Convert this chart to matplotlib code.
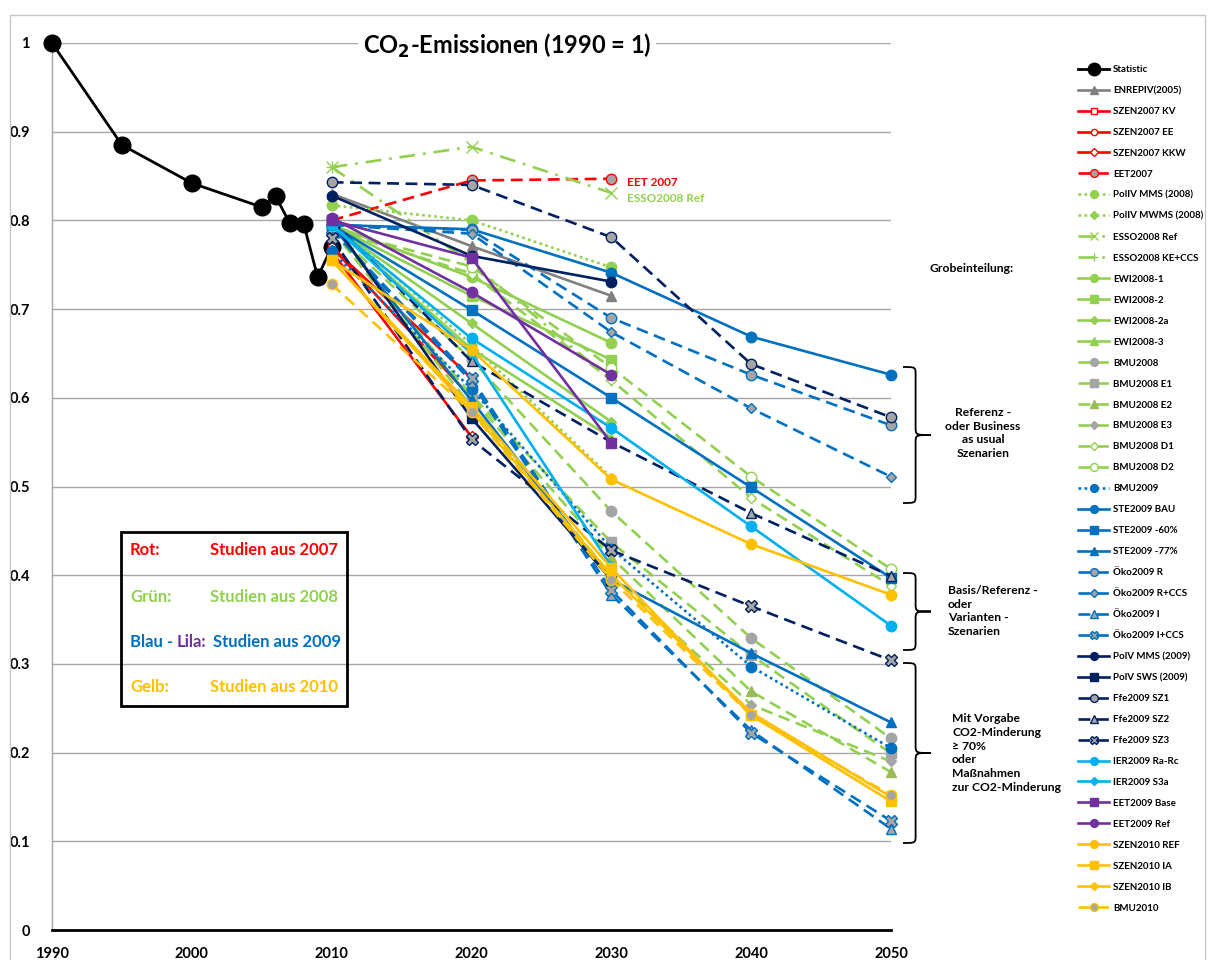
import numpy as np
import matplotlib
matplotlib.use("Agg")
import matplotlib.pyplot as plt
from matplotlib.path import Path
from matplotlib.patches import PathPatch, Rectangle

plt.rcParams['font.family'] = ['Lato', 'DejaVu Sans']
plt.rcParams['font.weight'] = 'bold'

# ---------------- data ----------------
stat_years = [1990, 1995, 2000, 2005, 2006, 2007, 2008, 2009, 2010]
statistic = [1.0, 0.885, 0.842, 0.815, 0.827, 0.797, 0.796, 0.736, 0.770]

years = [2010, 2020, 2030, 2040, 2050]
N = np.nan
enrep_iv_2005 = [0.830, 0.771, 0.715, N, N]
szen2007_kv = [0.770, 0.622, N, N, N]
szen2007_ee = [0.770, 0.600, N, N, N]
szen2007_kkw = [0.765, 0.556, N, N, N]
eet2007 = [0.800, 0.845, 0.847, N, N]
poliv_mms_2008 = [0.817, 0.800, 0.747, N, N]
poliv_mwms_2008 = [0.800, 0.660, 0.510, N, N]
esso2008_ref = [0.860, 0.883, 0.831, N, N]
esso2008_ke_ccs = [0.860, 0.752, 0.620, N, N]
ewi2008_1 = [0.795, 0.736, 0.662, N, N]
ewi2008_2 = [0.795, 0.715, 0.643, N, N]
ewi2008_2a = [0.795, 0.684, 0.573, N, N]
ewi2008_3 = [0.795, 0.655, 0.555, N, N]
bmu2008 = [0.790, 0.643, 0.472, 0.329, 0.216]
bmu2008_e1 = [0.790, 0.603, 0.437, 0.310, 0.199]
bmu2008_e2 = [0.790, 0.600, 0.420, 0.269, 0.178]
bmu2008_e3 = [0.790, 0.590, 0.400, 0.254, 0.190]
bmu2008_d1 = [0.790, 0.740, 0.620, 0.487, 0.388]
bmu2008_d2 = [0.790, 0.748, 0.634, 0.511, 0.407]
bmu2009 = [0.765, 0.610, 0.430, 0.297, 0.205]
ste2009_bau = [0.795, 0.790, 0.741, 0.669, 0.626]
ste2009_60 = [0.795, 0.699, 0.600, 0.499, 0.397]
ste2009_77 = [0.795, 0.597, 0.395, 0.312, 0.234]
oeko2009_r = [0.795, 0.789, 0.690, 0.626, 0.569]
oeko2009_r_ccs = [0.795, 0.785, 0.674, 0.588, 0.511]
oeko2009_i = [0.790, 0.618, 0.378, 0.225, 0.114]
oeko2009_i_ccs = [0.790, 0.622, 0.383, 0.222, 0.123]
polv_mms_2009 = [0.828, 0.760, 0.731, N, N]
polv_sws_2009 = [0.800, 0.577, 0.395, N, N]
ffe2009_sz1 = [0.843, 0.840, 0.781, 0.638, 0.578]
ffe2009_sz2 = [0.800, 0.641, 0.550, 0.470, 0.399]
ffe2009_sz3 = [0.780, 0.553, 0.428, 0.365, 0.304]
ier2009_ra_rc = [0.795, 0.667, 0.566, 0.455, 0.343]
ier2009_s3a = [0.795, 0.650, 0.410, N, N]
eet2009_base = [0.800, 0.758, 0.549, N, N]
eet2009_ref = [0.803, 0.719, 0.626, N, N]
szen2010_ref = [0.755, 0.654, 0.508, 0.435, 0.378]
szen2010_ia = [0.755, 0.590, 0.408, 0.242, 0.145]
szen2010_ib = [0.755, 0.585, 0.400, 0.245, 0.150]
bmu2010 = [0.728, 0.584, 0.395, 0.242, 0.152]

xticks = [1990, 2000, 2010, 2020, 2030, 2040, 2050]
yticks = [0, 0.1, 0.2, 0.3, 0.4, 0.5, 0.6, 0.7, 0.8, 0.9, 1.0]
ytick_labels = ['0', '0.1', '0.2', '0.3', '0.4', '0.5', '0.6', '0.7', '0.8', '0.9', '1']

# ---------------- styles ----------------
RED = '#FF0000'; GRN = '#92D050'; BLU = '#0070C0'; NAV = '#002060'
LBL = '#00B0F0'; PUR = '#7030A0'; YEL = '#FFC000'; GRY = '#808080'; MG = '#A5A5A5'
SOLID = '-'
DASH = (0, (4.5, 2.5))
DOT = (0, (1, 1.3))
DASHDOT = (0, (6, 3, 1, 3))

series = [
    ('ENREPIV(2005)', enrep_iv_2005, GRY, SOLID, '^', GRY, GRY),
    ('SZEN2007 KV', szen2007_kv, RED, SOLID, 's', 'white', RED),
    ('SZEN2007 EE', szen2007_ee, RED, SOLID, 'o', 'white', RED),
    ('SZEN2007 KKW', szen2007_kkw, RED, SOLID, 'D', 'white', RED),
    ('EET2007', eet2007, RED, DASH, 'o', MG, RED),
    ('PolIV MMS (2008)', poliv_mms_2008, GRN, DOT, 'o', GRN, GRN),
    ('PolIV MWMS (2008)', poliv_mwms_2008, GRN, DOT, 'D', GRN, GRN),
    ('ESSO2008 Ref', esso2008_ref, GRN, DASHDOT, 'x', GRN, GRN),
    ('ESSO2008 KE+CCS', esso2008_ke_ccs, GRN, DASHDOT, '+', GRN, GRN),
    ('EWI2008-1', ewi2008_1, GRN, SOLID, 'o', GRN, GRN),
    ('EWI2008-2', ewi2008_2, GRN, SOLID, 's', GRN, GRN),
    ('EWI2008-2a', ewi2008_2a, GRN, SOLID, 'D', GRN, GRN),
    ('EWI2008-3', ewi2008_3, GRN, SOLID, '^', GRN, GRN),
    ('BMU2008', bmu2008, GRN, DASH, 'o', MG, MG),
    ('BMU2008 E1', bmu2008_e1, GRN, DASH, 's', MG, MG),
    ('BMU2008 E2', bmu2008_e2, GRN, DASH, '^', '#9BBB59', '#9BBB59'),
    ('BMU2008 E3', bmu2008_e3, GRN, DASH, 'D', MG, MG),
    ('BMU2008 D1', bmu2008_d1, GRN, DASH, 'D', 'white', GRN),
    ('BMU2008 D2', bmu2008_d2, GRN, DASH, 'o', 'white', GRN),
    ('BMU2009', bmu2009, BLU, DOT, 'o', BLU, BLU),
    ('STE2009 BAU', ste2009_bau, BLU, SOLID, 'o', BLU, BLU),
    ('STE2009 -60%', ste2009_60, BLU, SOLID, 's', BLU, BLU),
    ('STE2009 -77%', ste2009_77, BLU, SOLID, '^', BLU, BLU),
    ('Öko2009 R', oeko2009_r, BLU, DASH, 'o', MG, BLU),
    ('Öko2009 R+CCS', oeko2009_r_ccs, BLU, DASH, 'D', MG, BLU),
    ('Öko2009 I', oeko2009_i, BLU, DASH, '^', MG, BLU),
    ('Öko2009 I+CCS', oeko2009_i_ccs, BLU, DASH, 'X', MG, BLU),
    ('PolV MMS (2009)', polv_mms_2009, NAV, SOLID, 'o', NAV, NAV),
    ('PolV SWS (2009)', polv_sws_2009, NAV, SOLID, 's', NAV, NAV),
    ('Ffe2009 SZ1', ffe2009_sz1, NAV, DASH, 'o', MG, NAV),
    ('Ffe2009 SZ2', ffe2009_sz2, NAV, DASH, '^', MG, NAV),
    ('Ffe2009 SZ3', ffe2009_sz3, NAV, DASH, 'X', MG, NAV),
    ('IER2009 Ra-Rc', ier2009_ra_rc, LBL, SOLID, 'o', LBL, LBL),
    ('IER2009 S3a', ier2009_s3a, LBL, SOLID, 'D', LBL, LBL),
    ('EET2009 Base', eet2009_base, PUR, SOLID, 's', PUR, PUR),
    ('EET2009 Ref', eet2009_ref, PUR, SOLID, 'o', PUR, PUR),
    ('SZEN2010 REF', szen2010_ref, YEL, SOLID, 'o', YEL, YEL),
    ('SZEN2010 IA', szen2010_ia, YEL, SOLID, 's', YEL, YEL),
    ('SZEN2010 IB', szen2010_ib, YEL, SOLID, 'D', YEL, YEL),
    ('BMU2010', bmu2010, YEL, DASH, 'o', MG, YEL),
]

W, H = 1211, 960
fig = plt.figure(figsize=(W / 100, H / 100), dpi=100)
fig.patch.set_facecolor('white')


def px(x, y):
    return (x / W, 1 - y / H)


ax = fig.add_axes([52 / W, 1 - 930 / H, (891 - 52) / W, (930 - 43) / H])
ax.set_xlim(1990, 2050)
ax.set_ylim(0, 1)

for y in yticks[1:]:
    ax.axhline(y, color='#A6A6A6', lw=1.0, zorder=0)

handles = []
h, = ax.plot(stat_years, statistic, color='black', lw=2.0, marker='o', ms=12,
             mfc='black', mec='black', clip_on=False, zorder=3, label='Statistic')
handles.append(h)
for i, (lab, vals, col, ls, mk, mfc, mec) in enumerate(series):
    msz = {'o': 7.5, 's': 7, 'D': 5.5, '^': 7.5, 'x': 8, '+': 8, 'X': 8}[mk]
    if lab.startswith('SZEN2007'):
        msz = 6
    h, = ax.plot(years, vals, color=col, lw=1.9, linestyle=ls, marker=mk, ms=msz,
                 mfc=mfc, mec=mec, mew=1.0, clip_on=False, zorder=4 + i * 0.01, label=lab)
    handles.append(h)

ax.set_xticks(xticks)
ax.set_xticklabels([str(x) for x in xticks], fontsize=10.5, fontweight='bold')
ax.set_yticks(yticks)
ax.set_yticklabels(ytick_labels, fontsize=10.5, fontweight='bold')
ax.tick_params(axis='x', length=0, pad=12)
ax.tick_params(axis='y', length=0, pad=16)
for s in ['top', 'right']:
    ax.spines[s].set_visible(False)
ax.spines['left'].set_color('#A6A6A6')
ax.spines['left'].set_linewidth(1.0)
ax.spines['bottom'].set_color('black')
ax.spines['bottom'].set_linewidth(2.0)

# title
fig.text(*px(507, 46), 'CO$_\\mathbf{2}$-Emissionen (1990 = 1)', ha='center', va='center',
         fontsize=17, fontweight='bold',
         bbox=dict(facecolor='white', edgecolor='none', pad=3))

# inline labels
fig.text(*px(627, 182), 'EET 2007', color=RED, fontsize=8.5, fontweight='bold', va='center')
fig.text(*px(627, 199), 'ESSO2008 Ref', color=GRN, fontsize=8.5, fontweight='bold', va='center')

# outer frame
fig.patches.append(Rectangle(px(10, 975), (1205 - 10) / W, (975 - 15) / H,
                             transform=fig.transFigure, fill=False, ec='#C8C8C8', lw=1.0))

# colour key box
fig.patches.append(Rectangle(px(121, 706), (347 - 121) / W, (706 - 532) / H,
                             transform=fig.transFigure, fill=False, ec='black', lw=2.0,
                             zorder=10))
kfs = 12
fig.text(*px(130, 550), 'Rot:', color=RED, fontsize=kfs, fontweight='bold', va='center')
fig.text(*px(210, 550), 'Studien aus 2007', color=RED, fontsize=kfs, fontweight='bold', va='center')
fig.text(*px(130, 597), 'Grün:', color=GRN, fontsize=kfs, fontweight='bold', va='center')
fig.text(*px(210, 597), 'Studien aus 2008', color=GRN, fontsize=kfs, fontweight='bold', va='center')
fig.text(*px(130, 642), 'Blau -', color=BLU, fontsize=kfs, fontweight='bold', va='center')
fig.text(*px(177, 642), 'Lila:', color=PUR, fontsize=kfs, fontweight='bold', va='center')
fig.text(*px(213, 642), 'Studien aus 2009', color=BLU, fontsize=kfs, fontweight='bold', va='center')
fig.text(*px(130, 687), 'Gelb:', color=YEL, fontsize=kfs, fontweight='bold', va='center')
fig.text(*px(210, 687), 'Studien aus 2010', color=YEL, fontsize=kfs, fontweight='bold', va='center')

# legend
fig.legend(handles=handles, loc='upper left', bbox_to_anchor=px(1078, 65), frameon=False,
           handlelength=3.2, handletextpad=0.4, labelspacing=1.23, markerscale=0.75,
           borderpad=0, borderaxespad=0, prop={'weight': 'bold', 'size': 7})

# grouping annotations
afs = 8.7
fig.text(*px(930, 268), 'Grobeinteilung:', fontsize=afs, fontweight='bold', va='center')


def brace(x, y0, y1, w=28):
    ym = (y0 + y1) / 2
    xm = x + w * 0.45
    r = 8
    verts = [(x, y0), (xm, y0), (xm, y0), (xm, y0 + r),
             (xm, ym - r),
             (xm, ym), (xm, ym), (x + w, ym),
             (xm, ym), (xm, ym), (xm, ym + r),
             (xm, y1 - r),
             (xm, y1), (xm, y1), (x, y1)]
    codes = [Path.MOVETO, Path.CURVE4, Path.CURVE4, Path.CURVE4,
             Path.LINETO,
             Path.CURVE4, Path.CURVE4, Path.CURVE4,
             Path.CURVE4, Path.CURVE4, Path.CURVE4,
             Path.LINETO,
             Path.CURVE4, Path.CURVE4, Path.CURVE4]
    p = Path([px(*v) for v in verts], codes)
    fig.patches.append(PathPatch(p, transform=fig.transFigure, fill=False, lw=1.3, ec='black'))


brace(903, 367, 503)
brace(903, 573, 650)
brace(903, 663, 843)
fig.text(*px(983, 433), 'Referenz -\noder Business\nas usual\nSzenarien', fontsize=afs,
         fontweight='bold', ha='center', va='center', linespacing=1.3)
fig.text(*px(948, 611), 'Basis/Referenz -\noder\nVarianten -\nSzenarien', fontsize=afs,
         fontweight='bold', ha='left', va='center', linespacing=1.3)
fig.text(*px(952, 753), 'Mit Vorgabe\nCO2-Minderung\n≥ 70%\noder\nMaßnahmen\nzur CO2-Minderung',
         fontsize=afs, fontweight='bold', ha='left', va='center', linespacing=1.3)

fig.savefig('out.png', dpi=100, facecolor='white')
